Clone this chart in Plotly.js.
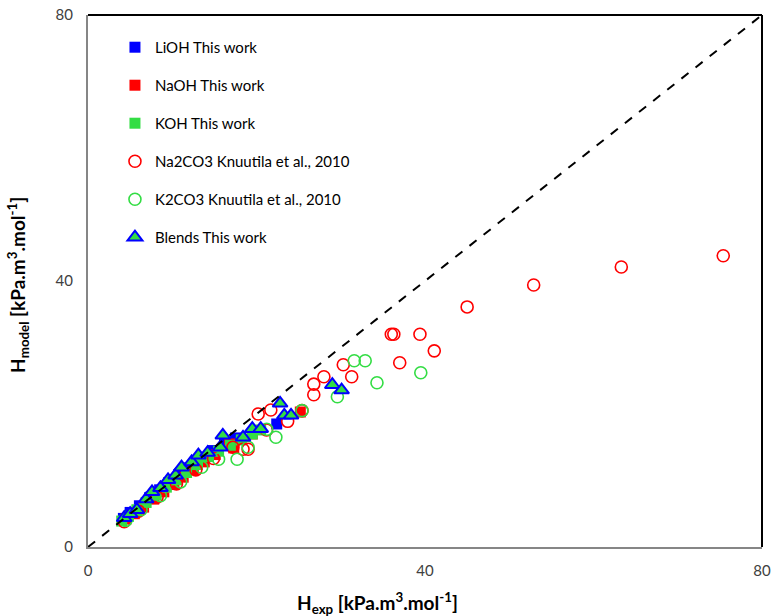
<!DOCTYPE html>
<html>
<head>
<meta charset="utf-8">
<script src="https://cdn.plot.ly/plotly-3.0.1.min.js"></script>
<style>html,body{margin:0;padding:0;background:#fff}#chart{width:771px;height:616px}</style>
</head>
<body>
<div id="chart"></div>
<script>
// Series names
const seriesNames = ["LiOH This work", "NaOH This work", "KOH This work",
  "Na2CO3 Knuutila et al., 2010", "K2CO3 Knuutila et al., 2010", "Blends This work"];

// LiOH (this work)
const liohX = [4.2, 5.0, 6.1, 7.3, 8.5, 9.6, 10.8, 12.0, 13.4, 14.8, 16.2, 17.5, 22.4];
const liohY = [4.3, 5.2, 6.2, 7.4, 8.6, 9.7, 10.9, 11.9, 13.0, 14.5, 15.6, 16.4, 18.5];

// NaOH (this work)
const naohX = [4.5, 5.5, 6.6, 7.8, 9.0, 10.2, 11.3, 12.5, 13.8, 15.1, 16.8, 17.3, 19.5, 25.2];
const naohY = [4.2, 5.0, 6.0, 7.2, 8.3, 9.4, 10.5, 11.6, 12.8, 13.9, 15.5, 14.9, 17.0, 20.3];

// KOH (this work)
const kohX = [4.0, 4.8, 5.8, 6.9, 8.1, 9.3, 10.5, 11.7, 13.0, 14.3, 15.5, 16.9, 18.2, 19.5, 20.5];
const kohY = [3.9, 4.6, 5.6, 6.7, 7.8, 9.0, 10.1, 11.2, 12.4, 13.6, 14.4, 15.3, 16.1, 17.0, 17.6];

// Na2CO3 (Knuutila et al., 2010)
const na2co3X = [4.3, 6.0, 8.2, 10.5, 12.8, 14.9, 17.2, 18.4, 19.0, 20.2, 21.2, 21.7, 23.7, 25.4, 26.8, 26.8, 28.0, 30.3, 31.3, 36.0, 36.3, 37.0, 39.4, 41.1, 45.0, 52.9, 63.3, 75.4];
const na2co3Y = [3.8, 5.4, 7.5, 9.5, 11.6, 13.3, 15.0, 14.7, 14.7, 20.0, 17.6, 20.6, 18.9, 20.5, 24.5, 22.9, 25.6, 27.4, 25.6, 32.0, 32.0, 27.7, 32.0, 29.5, 36.1, 39.4, 42.1, 43.8];

// K2CO3 (Knuutila et al., 2010)
const k2co3X = [4.5, 6.3, 8.6, 11.0, 13.5, 15.5, 17.7, 19.0, 21.2, 22.3, 25.4, 29.6, 31.6, 32.9, 34.3, 39.5];
const k2co3Y = [4.0, 5.6, 7.7, 9.8, 12.0, 13.2, 13.2, 15.0, 17.7, 16.5, 20.5, 22.6, 28.0, 28.0, 24.7, 26.2];

// Blends (this work)
const blendX = [4.3, 5.0, 5.8, 6.9, 7.6, 8.6, 9.5, 10.4, 11.1, 12.3, 13.1, 14.2, 15.7, 16.0, 18.4, 19.5, 20.5, 22.8, 23.3, 24.1, 29.0, 30.1];
const blendY = [4.4, 5.0, 5.6, 7.2, 8.3, 8.9, 10.1, 10.8, 12.0, 12.8, 13.8, 14.2, 15.0, 16.8, 16.5, 17.8, 17.8, 21.6, 19.8, 19.8, 24.4, 23.6];

// Parity line
const parityX = [0, 80];
const parityY = [0, 80];

// Ticks
const tickVals = [0, 40, 80];
const tickText = ["0", "40", "80"];

const BLUE = "#0000FF", RED = "#FF0000", GREEN = "#33DD44";

const traces = [
  {x: liohX, y: liohY, name: seriesNames[0], mode: "markers", type: "scatter", legendgroup: "a",
   marker: {symbol: "square", size: 11, color: BLUE}},
  {x: naohX, y: naohY, name: seriesNames[1], mode: "markers", type: "scatter", legendgroup: "b",
   marker: {symbol: "square", size: 11, color: RED}},
  {x: kohX, y: kohY, name: seriesNames[2], mode: "markers", type: "scatter", legendgroup: "c",
   marker: {symbol: "square", size: 11, color: GREEN}},
  {x: na2co3X, y: na2co3Y, name: seriesNames[3], mode: "markers", type: "scatter", legendgroup: "d",
   marker: {symbol: "circle-open", size: 12, color: RED, line: {width: 1.6, color: RED}}},
  {x: k2co3X, y: k2co3Y, name: seriesNames[4], mode: "markers", type: "scatter", legendgroup: "e",
   marker: {symbol: "circle-open", size: 12, color: GREEN, line: {width: 1.6, color: GREEN}}},
  {x: blendX, y: blendY, name: seriesNames[5], mode: "markers", type: "scatter", legendgroup: "f",
   marker: {symbol: "triangle-up", size: 13, color: GREEN, line: {width: 2, color: BLUE}}},
  {x: parityX, y: parityY, mode: "lines", type: "scatter", showlegend: false, hoverinfo: "skip",
   line: {color: "#000", width: 2, dash: "dash"}}
];

const axisCommon = {
  range: [0, 80], tickvals: tickVals, ticktext: tickText, showgrid: false, zeroline: false,
  showline: true, linecolor: "#868686", linewidth: 2, ticks: "",
  tickfont: {family: "Lato, 'Open Sans', sans-serif", size: 15, color: "#404040"}
};

const layout = {
  width: 771, height: 616,
  margin: {l: 88, r: 9, t: 15, b: 69},
  paper_bgcolor: "#fff", plot_bgcolor: "#fff",
  showlegend: true,
  legend: {x: 0.04, y: 0.97, xanchor: "left", yanchor: "top", traceorder: "grouped",
    tracegroupgap: 15.5, bgcolor: "rgba(0,0,0,0)",
    font: {family: "Lato, 'Open Sans', sans-serif", size: 15, color: "#000"}},
  xaxis: Object.assign({}, axisCommon, {ticklabelstandoff: 9}),
  yaxis: Object.assign({}, axisCommon, {ticklabelstandoff: 10}),
  shapes: [
    {type: "line", xref: "paper", yref: "paper", x0: 0, x1: 1, y0: 1, y1: 1, line: {color: "#000", width: 2}},
    {type: "line", xref: "paper", yref: "paper", x0: 1, x1: 1, y0: 0, y1: 1, line: {color: "#000", width: 2}}
  ],
  annotations: [
    {xref: "paper", yref: "paper", x: 0.430, y: -0.105, xanchor: "center", yanchor: "middle", showarrow: false,
     text: "<b>H<sub>exp</sub> [kPa.m<sup>3</sup>.mol<sup>-1</sup>]</b>",
     font: {family: "Lato, 'Open Sans', sans-serif", size: 19, color: "#000"}},
    {xref: "paper", yref: "paper", x: -0.104, y: 0.4925, xanchor: "center", yanchor: "middle", showarrow: false,
     textangle: -90,
     text: "<b>H<sub>model</sub> [kPa.m<sup>3</sup>.mol<sup>-1</sup>]</b>",
     font: {family: "Lato, 'Open Sans', sans-serif", size: 19, color: "#000"}}
  ]
};

Plotly.newPlot("chart", traces, layout, {displayModeBar: false, staticPlot: true});
</script>
</body>
</html>
